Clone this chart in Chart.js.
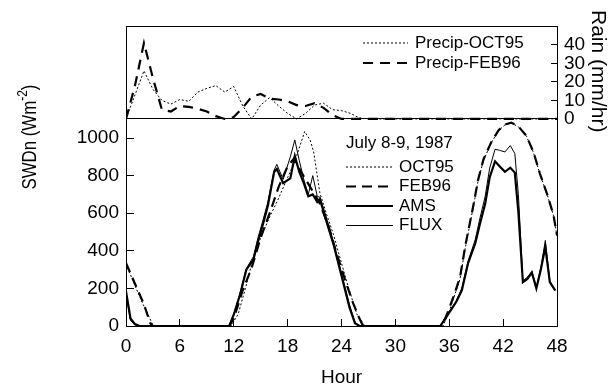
<!DOCTYPE html>
<html>
<head>
<meta charset="utf-8">
<script src="https://cdn.jsdelivr.net/npm/chart.js@4/dist/chart.umd.min.js"></script>
<style>
  body { margin: 0; background: #fff; }
  canvas { display: block; }
</style>
</head>
<body>
<canvas id="swdn" width="610" height="387"></canvas>
<script>
// shortwave down (W m-2), hour since start of July 8 1987
const octHours = [0, 1, 2, 3, 3.3, 11.7, 12.5, 13.3, 14, 15, 16, 17, 18, 18.8, 19.9, 20.5, 20.9, 21.6, 22.3, 23.1, 24.6, 25.7, 26.6,
  35.3, 35.9, 36.5, 37.2, 37.8, 38.7, 39.2, 39.8, 40.7, 41.5, 42.2, 42.9, 43.7, 44.6, 45.4, 46.1, 46.9, 47.6, 48]
const octSW = [330, 215, 105, 5, 0, 0, 64, 200, 330, 470, 580, 680, 790, 875, 1035, 990, 926, 706, 600, 487, 233, 64, 0,
  0, 64, 150, 250, 419, 639, 770, 880, 977, 1040, 1070, 1080, 1060, 1010, 920, 808, 700, 590, 480]

const febHours = [0, 1, 2, 2.7, 3, 11.5, 12, 13, 14, 15, 16, 17, 18, 18.7, 19.5, 20.5, 21.5, 22.5, 23.5, 24.5, 25.3, 26, 26.4,
  35.2, 35.8, 36.5, 37.2, 37.8, 38.7, 39.2, 39.8, 40.7, 41.5, 42.2, 42.9, 43.7, 44.6, 45.4, 46.1, 46.9, 47.6, 48]
const febSW = [335, 225, 115, 15, 0, 0, 40, 190, 310, 470, 600, 740, 850, 890, 820, 740, 660, 540, 380, 230, 120, 40, 0,
  0, 70, 160, 260, 430, 645, 775, 885, 980, 1042, 1072, 1082, 1062, 1012, 922, 810, 702, 592, 482]

const obsHours = [0, 0.5, 1, 1.5, 11.5, 12, 12.7, 13.4, 14.2, 14.7, 15.3, 15.8, 16.5, 16.8, 17.5, 18.3, 18.8, 19.3, 19.8, 20.3, 20.8, 21.3, 21.6, 22.3, 23.1, 24, 24.9, 25.5, 26,
  35, 35.7, 36.4, 36.8, 37.4, 38.1, 38.9, 39.4, 40, 40.5, 41.1, 41.6, 42.2, 42.8, 43.3, 43.7, 44.2, 44.7, 45.2, 45.7, 46.2, 46.7, 47.2, 47.8]
const amsSW = [185, 40, 10, 0, 0, 60, 166, 300, 355, 450, 550, 640, 820, 835, 760, 785, 905, 820, 760, 690, 700, 660, 675, 560, 436, 267, 98, 15, 0,
  0, 50, 100, 130, 190, 335, 440, 540, 650, 790, 876, 850, 820, 842, 816, 605, 233, 250, 284, 200, 300, 420, 233, 190]
const fluxSW = [170, 30, 5, 0, 0, 62, 175, 305, 370, 470, 570, 660, 830, 860, 780, 900, 990, 880, 780, 700, 800, 690, 685, 580, 450, 280, 110, 20, 0,
  0, 55, 105, 135, 200, 345, 460, 570, 690, 840, 940, 935, 926, 960, 918, 700, 240, 260, 290, 205, 310, 455, 240, 186]

// rain (mm/hr)
const rainHours = [0, 1, 2, 3, 4, 5, 6, 7, 8, 9, 10, 11, 12, 13, 14, 15, 16, 17, 18, 19, 20, 21, 22, 23, 24, 25, 26, 27, 48]
const octRain = [0, 13, 26, 16, 10, 8, 10.5, 9.5, 14.5, 16.5, 18, 14.5, 17.5, 7, 0, 7.5, 11.5, 7, 3, 0, 3, 7.5, 8.5, 5, 4.5, 3, 0.5, 0, 0]
const febRain = [0, 18, 41, 22, 5, 4, 7, 6.5, 5.5, 4, 1.5, 0, 1, 6, 12, 13.5, 11, 10.5, 9.5, 7.5, 7, 8.5, 6, 2, 0, 0, 0, 0, 0]

const hourTicks = [0, 6, 12, 18, 24, 30, 36, 42, 48]
const swTicks = [0, 200, 400, 600, 800, 1000]
const rainTicks = [0, 10, 20, 30, 40]

const pts = (xs, ys) => xs.map((x, i) => ({ x: x, y: ys[i] }))
const FONT = '"Liberation Sans", Arial, sans-serif'
Chart.defaults.font.family = FONT
Chart.defaults.color = '#000'

const legendPlugin = {
  id: 'boxLegends',
  afterDraw(chart, args, opts) {
    const ctx = chart.ctx
    ctx.save()
    ctx.font = '17px ' + FONT
    ctx.fillStyle = '#000'
    ctx.textBaseline = 'middle'
    opts.blocks.forEach(b => {
      if (b.header) ctx.fillText(b.header, b.x, b.headerY)
      b.items.forEach((idx, i) => {
        const ds = chart.data.datasets[idx]
        const y = b.y + i * b.rowH
        ctx.beginPath()
        ctx.setLineDash(ds.borderDash || [])
        ctx.lineWidth = ds.borderWidth
        ctx.strokeStyle = ds.borderColor
        ctx.moveTo(b.x, y)
        ctx.lineTo(b.x + b.len, y)
        ctx.stroke()
        ctx.setLineDash([])
        ctx.fillText(ds.label, b.x + b.len + b.gap, y)
      })
    })
    ctx.restore()
  }
}

// axis titles drawn by hand: the left one needs a superscript,
// the right one hangs from the top of the rain panel
const titlesPlugin = {
  id: 'axisTitles',
  afterDraw(chart, args, opts) {
    const ctx = chart.ctx
    ctx.save()
    ctx.fillStyle = '#000'
    ctx.textBaseline = 'alphabetic'

    const L = opts.left
    ctx.save()
    ctx.translate(L.x, L.y)
    ctx.rotate(-Math.PI / 2)
    ctx.scale(L.squeeze, 1)
    const big = L.size + 'px ' + FONT
    const small = Math.round(L.size * 0.72) + 'px ' + FONT
    ctx.font = big
    const w1 = ctx.measureText(L.main).width
    ctx.font = small
    const w2 = ctx.measureText(L.sup).width
    ctx.font = big
    const w3 = ctx.measureText(L.end).width
    let x = -(w1 + w2 + w3) / 2
    ctx.fillText(L.main, x, 0)
    x += w1
    ctx.font = small
    ctx.fillText(L.sup, x, -L.size * 0.42)
    x += w2
    ctx.font = big
    ctx.fillText(L.end, x, 0)
    ctx.restore()

    const R = opts.right
    ctx.save()
    ctx.translate(R.x, R.y)
    ctx.rotate(Math.PI / 2)
    ctx.font = R.size + 'px ' + FONT
    ctx.fillText(R.text, 0, 0)
    ctx.restore()

    ctx.restore()
  }
}

new Chart(document.getElementById('swdn'), {
  type: 'line',
  data: {
    datasets: [
      { label: 'OCT95', data: pts(octHours, octSW), yAxisID: 'y', borderColor: '#000', borderWidth: 1, borderDash: [2, 2] },
      { label: 'FEB96', data: pts(febHours, febSW), yAxisID: 'y', borderColor: '#000', borderWidth: 2.2, borderDash: [10, 6] },
      { label: 'AMS', data: pts(obsHours, amsSW), yAxisID: 'y', borderColor: '#000', borderWidth: 2.2 },
      { label: 'FLUX', data: pts(obsHours, fluxSW), yAxisID: 'y', borderColor: '#000', borderWidth: 1 },
      { label: 'Precip-OCT95', data: pts(rainHours, octRain), yAxisID: 'rain', borderColor: '#000', borderWidth: 1, borderDash: [2, 2] },
      { label: 'Precip-FEB96', data: pts(rainHours, febRain), yAxisID: 'rain', borderColor: '#000', borderWidth: 2.2, borderDash: [10, 7] }
    ]
  },
  options: {
    responsive: false,
    animation: false,
    events: [],
    layout: { padding: 0 },
    elements: { point: { radius: 0 }, line: { tension: 0, fill: false } },
    plugins: {
      legend: { display: false },
      tooltip: { enabled: false },
      boxLegends: {
        blocks: [
          { x: 363, y: 43, rowH: 20, len: 45, gap: 7, items: [4, 5] },
          { x: 346, y: 167, rowH: 19.5, len: 47, gap: 6, header: 'July 8-9, 1987', headerY: 143, items: [0, 1, 2, 3] }
        ]
      },
      axisTitles: {
        left: { x: 36, y: 137, size: 21, squeeze: 0.8, main: 'SWDn (Wm', sup: '-2', end: ')' },
        right: { x: 592, y: 10, size: 21, text: 'Rain (mm/hr)' }
      }
    },
    scales: {
      x: {
        type: 'linear', position: 'bottom', min: 0, max: 48,
        afterBuildTicks: s => { s.ticks = hourTicks.map(v => ({ value: v })) },
        afterFit: s => { s.height = 61 },
        ticks: { font: { size: 19 }, padding: 16, maxRotation: 0, callback: v => String(v) },
        grid: { drawOnChartArea: false, tickLength: -7, color: '#000', tickColor: '#000' },
        border: { display: true, color: '#000', width: 1 },
        title: { display: true, text: 'Hour', font: { size: 19, lineHeight: 1 }, padding: 0 }
      },
      xTop: {
        type: 'linear', position: 'top', min: 0, max: 48,
        afterFit: s => { s.height = 12 },
        ticks: { display: false },
        grid: { display: false },
        border: { display: true, color: '#000', width: 1 }
      },
      y: {
        type: 'linear', position: 'left', min: 0, max: 1594,
        afterBuildTicks: s => { s.ticks = swTicks.map(v => ({ value: v })) },
        afterFit: s => { s.width = 126 },
        ticks: { font: { size: 19 }, padding: 15, callback: v => String(v) },
        grid: { drawOnChartArea: false, tickLength: -8, color: '#000', tickColor: '#000' },
        border: { display: true, color: '#000', width: 1 }
      },
      rain: {
        type: 'linear', position: 'right', min: -111.9, max: 50,
        afterBuildTicks: s => { s.ticks = rainTicks.map(v => ({ value: v })) },
        afterFit: s => { s.width = 53 },
        ticks: { font: { size: 19 }, padding: 13, callback: v => String(v) },
        grid: {
          drawOnChartArea: true, tickLength: -6, tickColor: '#000',
          color: c => (c.tick && c.tick.value === 0 ? '#000' : 'rgba(0,0,0,0)')
        },
        border: { display: true, color: '#000', width: 1 }
      }
    }
  },
  plugins: [legendPlugin, titlesPlugin]
})
</script>
</body>
</html>
